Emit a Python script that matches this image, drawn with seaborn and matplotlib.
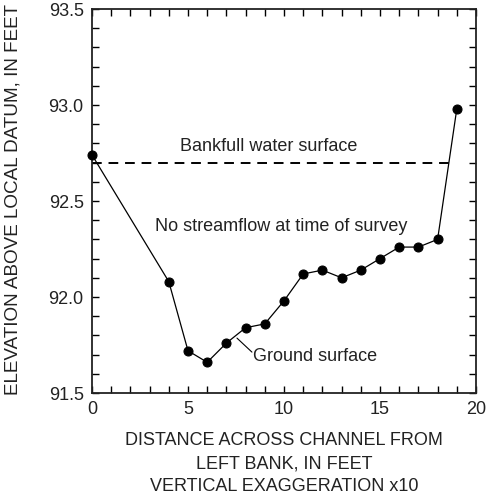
import matplotlib
matplotlib.use("Agg")
import matplotlib.pyplot as plt
import seaborn as sns
import pandas as pd
import numpy as np
from matplotlib.ticker import MultipleLocator

distance = [0, 4, 5, 6, 7, 8, 9, 10, 11, 12, 13, 14, 15, 16, 17, 18, 19]
elevation = [92.74, 92.08, 91.72, 91.66, 91.76, 91.84, 91.86, 91.98, 92.12,
             92.14, 92.10, 92.14, 92.20, 92.26, 92.26, 92.30, 92.98]
bankfull_level = 92.70
x_ticks = [0, 5, 10, 15, 20]
y_ticks = [91.5, 92.0, 92.5, 93.0, 93.5]

sns.set_style("ticks")
plt.rcParams['font.family'] = ['Liberation Sans', 'DejaVu Sans']

df = pd.DataFrame({"distance": distance, "elevation": elevation})

fig = plt.figure(figsize=(4.9, 4.97), dpi=100)
ax = fig.add_axes([92/490, 1 - 393/497, 384/490, 384/497])

sns.lineplot(data=df, x="distance", y="elevation", ax=ax, color="black",
             linewidth=0.9, marker="o", markersize=6.5, markeredgecolor="black",
             markerfacecolor="black", zorder=3)
for ln in ax.lines:
    ln.set_clip_on(False)

# bankfull line ends where it meets the ground-surface line on the right bank
x18, x19 = distance[-2], distance[-1]
y18, y19 = elevation[-2], elevation[-1]
x_end = x18 + (bankfull_level - y18) / (y19 - y18) * (x19 - x18)
ax.plot([distance[0], x_end], [bankfull_level, bankfull_level], color="black",
        linestyle=(0, (5, 3.5)), linewidth=1.4)

ax.set_xlim(0, 20)
ax.set_ylim(91.5, 93.5)
ax.set_xticks(x_ticks)
ax.set_xticklabels([str(t) for t in x_ticks])
ax.set_yticks(y_ticks)
ax.set_yticklabels([f"{t:.1f}" for t in y_ticks])
ax.xaxis.set_minor_locator(MultipleLocator(1))
ax.yaxis.set_minor_locator(MultipleLocator(0.1))
ax.tick_params(which="both", direction="in", top=True, right=True, length=5,
               width=1, color="black", labelsize=13, labelcolor="#222222")
ax.tick_params(axis="x", pad=6)
ax.tick_params(axis="y", pad=6)
for s in ax.spines.values():
    s.set_linewidth(1.3)
    s.set_color("#222222")

ax.set_xlabel("DISTANCE ACROSS CHANNEL FROM\nLEFT BANK, IN FEET\nVERTICAL EXAGGERATION x10",
              fontsize=13, color="#222222", labelpad=10, linespacing=1.45)
ax.set_ylabel("ELEVATION ABOVE LOCAL DATUM, IN FEET", fontsize=13.6,
              color="#222222")
ax.yaxis.set_label_coords(-0.183, 0.505)

ax.text(9.22, 92.786, "Bankfull water surface", fontsize=13, ha="center",
        va="center", color="#222222")
ax.text(3.28, 92.365, "No streamflow at time of survey", fontsize=13, ha="left",
        va="center", color="#222222")
ax.text(8.39, 91.69, "Ground surface", fontsize=13, ha="left", va="center",
        color="#222222")
ax.plot([7.55, 8.33], [91.786, 91.713], color="black", linewidth=0.8)

fig.savefig("out.png", dpi=100)
